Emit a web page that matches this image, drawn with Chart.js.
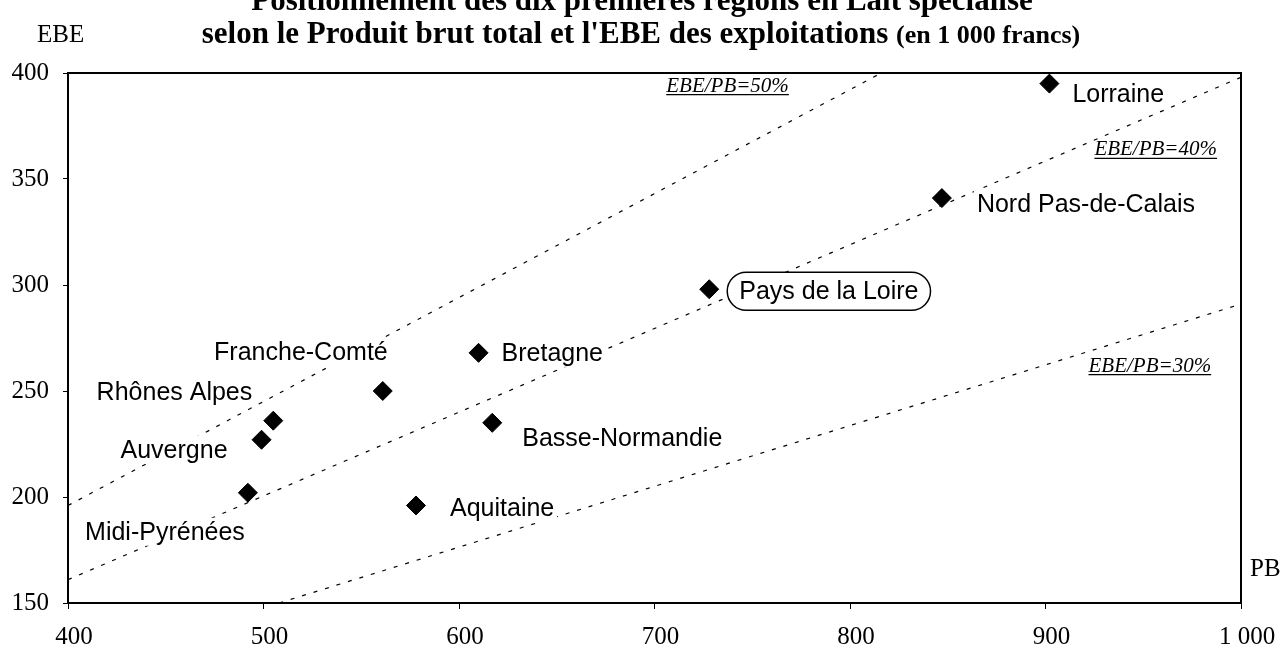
<!DOCTYPE html>
<html>
<head>
<meta charset="utf-8">
<title>Lait spécialisé - Produit brut et EBE</title>
<script src="https://cdn.jsdelivr.net/npm/chart.js@4"></script>
<style>
  html, body { margin: 0; padding: 0; background: #fff; }
  #wrap { width: 1285px; height: 660px; }
</style>
</head>
<body>
<div id="wrap"><canvas id="chart" width="1285" height="660"></canvas></div>
<script>
// Les dix premières régions (en 1 000 francs)
const regions = ['Lorraine', 'Nord Pas-de-Calais', 'Pays de la Loire', 'Bretagne', 'Franche-Comté',
                 'Rhônes Alpes', 'Auvergne', 'Midi-Pyrénées', 'Basse-Normandie', 'Aquitaine'];
const produitBrut = [902, 847, 728, 610, 561, 505, 499, 492, 617, 578];
const ebe = [395, 341, 298, 268, 250, 236, 227, 202, 235, 196];

// axes
const xTicks = [400, 500, 600, 700, 800, 900, 1000];
const xTickLabels = ['400', '500', '600', '700', '800', '900', '1 000'];
const yTicks = [150, 200, 250, 300, 350, 400];
const yTickLabels = ['150', '200', '250', '300', '350', '400'];

// droites EBE/PB, extrémités
const ratioNames = ['EBE/PB=50%', 'EBE/PB=40%', 'EBE/PB=30%'];
const ratioPB = [[400, 816], [400, 1000], [508, 1000]];
const ratioEBE = [[196, 400], [161, 398], [150, 291]];

// placement des étiquettes (décalages en pixels par rapport au point)
const labelPlacement = {
  'Lorraine': { dx: 23, dy: 11, align: 'left' },
  'Nord Pas-de-Calais': { dx: 35, dy: 6, align: 'left' },
  'Pays de la Loire': { dx: 30, dy: 2, align: 'left', boxed: true },
  'Bretagne': { dx: 23, dy: 0, align: 'left' },
  'Franche-Comté': { dx: 5, dy: -39, align: 'right' },
  'Rhônes Alpes': { dx: -21, dy: -29, align: 'right' },
  'Auvergne': { dx: -34, dy: 10, align: 'right' },
  'Midi-Pyrénées': { dx: -3, dy: 39, align: 'right' },
  'Basse-Normandie': { dx: 30, dy: 15, align: 'left' },
  'Aquitaine': { dx: 34, dy: 3, align: 'left' }
};
// position (en unités des axes) du bord gauche des libellés de ratio
const ratioLabelAt = [{ x: 706, y: 394 }, { x: 925, y: 364 }, { x: 922, y: 262 }];

const serif = "'Liberation Serif', 'Times New Roman', serif";
const sans = "'Liberation Sans', Arial, sans-serif";

const lineSets = ratioNames.map((name, i) => ({
  label: name,
  data: ratioPB[i].map((pb, j) => ({ x: pb, y: ratioEBE[i][j] })),
  showLine: true,
  borderColor: '#000',
  borderWidth: 1.2,
  borderDash: [4, 8],
  pointRadius: 0,
  order: 1
}));

const pointSet = {
  label: 'Régions',
  data: regions.map((r, i) => ({ x: produitBrut[i], y: ebe[i] })),
  pointStyle: 'rectRot',
  pointRadius: 9.5,
  pointHoverRadius: 9.5,
  backgroundColor: '#000',
  borderColor: '#000',
  borderWidth: 1,
  clip: false,
  order: 0
};

function drawRegionLabels(chart) {
  const ctx = chart.ctx;
  const xs = chart.scales.x, ys = chart.scales.y;
  ctx.save();
  ctx.font = '25px ' + sans;
  ctx.textBaseline = 'middle';
  regions.forEach((name, i) => {
    const p = labelPlacement[name];
    const px = xs.getPixelForValue(produitBrut[i]) + p.dx;
    const py = ys.getPixelForValue(ebe[i]) + p.dy;
    const w = ctx.measureText(name).width;
    const left = p.align === 'left' ? px : px - w;
    // fond blanc qui masque les pointillés
    ctx.fillStyle = '#fff';
    ctx.fillRect(left - 3, py - 14, w + 6, 28);
    if (p.boxed) {
      const bx = left - 12, bw = w + 24, bh = 38, by = py - 19;
      ctx.beginPath();
      ctx.roundRect(bx, by, bw, bh, 19);
      ctx.fillStyle = '#fff';
      ctx.fill();
      ctx.lineWidth = 1.5;
      ctx.strokeStyle = '#000';
      ctx.stroke();
    }
    ctx.fillStyle = '#000';
    ctx.textAlign = 'left';
    ctx.fillText(name, left, py + 1);
  });
  ctx.restore();
}

const decor = {
  id: 'decor',
  beforeDraw(chart) {
    const ctx = chart.ctx;
    ctx.save();
    ctx.fillStyle = '#fff';
    ctx.fillRect(0, 0, chart.width, chart.height);
    ctx.restore();
  },
  beforeDatasetDraw(chart, args) {
    if (args.index === lineSets.length) drawRegionLabels(chart);
  },
  afterDraw(chart) {
    const ctx = chart.ctx;
    const a = chart.chartArea;
    const xs = chart.scales.x, ys = chart.scales.y;
    ctx.save();
    // cadre
    ctx.strokeStyle = '#000';
    ctx.lineWidth = 2;
    ctx.strokeRect(a.left, a.top, a.right - a.left, a.bottom - a.top);

    // titre (première ligne coupée en haut)
    ctx.fillStyle = '#000';
    ctx.textBaseline = 'alphabetic';
    ctx.textAlign = 'center';
    ctx.font = 'bold 31px ' + serif;
    ctx.fillText('Positionnement des dix premières régions en Lait spécialisé', 642, 10);
    const t1 = "selon le Produit brut total et l'EBE des exploitations ";
    const t2 = '(en 1 000 francs)';
    ctx.font = 'bold 31px ' + serif;
    const w1 = ctx.measureText(t1).width;
    ctx.font = 'bold 26px ' + serif;
    const w2 = ctx.measureText(t2).width;
    const start = 641 - (w1 + w2) / 2;
    ctx.textAlign = 'left';
    ctx.font = 'bold 31px ' + serif;
    ctx.fillText(t1, start, 43);
    ctx.font = 'bold 26px ' + serif;
    ctx.fillText(t2, start + w1, 43);

    // noms des axes
    ctx.font = '25px ' + serif;
    ctx.fillText('EBE', 37, 42);
    ctx.fillText('PB', 1250, 576);

    // libellés des ratios
    ctx.font = 'italic 21px ' + serif;
    ctx.lineWidth = 1.3;
    ratioNames.forEach((name, i) => {
      const lx = xs.getPixelForValue(ratioLabelAt[i].x);
      const ly = ys.getPixelForValue(ratioLabelAt[i].y);
      const w = ctx.measureText(name).width;
      ctx.fillText(name, lx, ly + 6);
      ctx.beginPath();
      ctx.moveTo(lx, ly + 9);
      ctx.lineTo(lx + w, ly + 9);
      ctx.stroke();
    });
    ctx.restore();
  }
};

new Chart(document.getElementById('chart'), {
  type: 'scatter',
  data: { datasets: [...lineSets, pointSet] },
  options: {
    responsive: false,
    animation: false,
    devicePixelRatio: 1,
    layout: { padding: { top: 73, right: 44, bottom: 0, left: 0 } },
    plugins: {
      legend: { display: false },
      title: { display: false },
      tooltip: { enabled: false }
    },
    scales: {
      x: {
        type: 'linear',
        min: 400,
        max: 1000,
        afterBuildTicks: (s) => { s.ticks = xTicks.map(v => ({ value: v })); },
        afterFit: (s) => { s.height = 57; },
        ticks: {
          color: '#000',
          font: { family: serif, size: 25 },
          padding: 13,
          labelOffset: 6,
          maxRotation: 0,
          callback: (v) => xTickLabels[xTicks.indexOf(v)]
        },
        grid: { drawOnChartArea: false, drawTicks: true, tickLength: 6, color: '#000', lineWidth: 1 },
        border: { display: true, color: '#000', width: 2 }
      },
      y: {
        type: 'linear',
        min: 150,
        max: 400,
        afterBuildTicks: (s) => { s.ticks = yTicks.map(v => ({ value: v })); },
        afterFit: (s) => { s.width = 68; },
        ticks: {
          color: '#000',
          font: { family: serif, size: 25 },
          padding: 14,
          callback: (v) => yTickLabels[yTicks.indexOf(v)]
        },
        grid: { drawOnChartArea: false, drawTicks: true, tickLength: 5, color: '#000', lineWidth: 1 },
        border: { display: true, color: '#000', width: 2 }
      }
    }
  },
  plugins: [decor]
});
</script>
</body>
</html>
